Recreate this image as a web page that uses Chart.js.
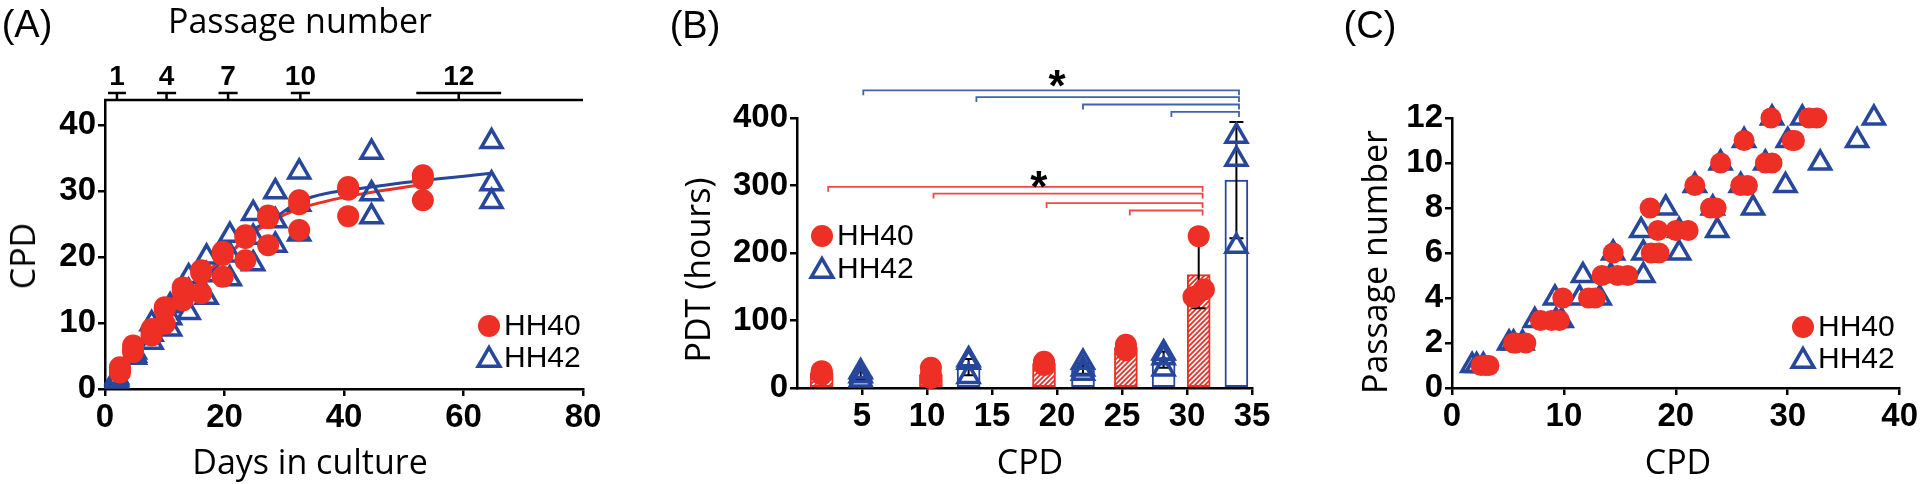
<!DOCTYPE html>
<html><head><meta charset="utf-8">
<script src="https://cdn.jsdelivr.net/npm/chart.js@4.4.1/dist/chart.umd.min.js"></script>
<style>
html,body{margin:0;padding:0;background:#fff;width:1920px;height:484px;overflow:hidden;}
#wrap{position:relative;width:1920px;height:484px;}
canvas{position:absolute;top:0;}
.t{position:absolute;white-space:nowrap;color:#000;line-height:1;transform:translate(-50%,-50%);}
.ot{font-family:'Open Sans',sans-serif;font-size:34px;}
.pl{font-family:'Liberation Sans',Arial,sans-serif;font-size:38px;}
.rot{transform:translate(-50%,-50%) rotate(-90deg);}
</style></head>
<body><div id="wrap">
<canvas id="cA" width="640" height="484" style="left:0px"></canvas>
<canvas id="cB" width="660" height="484" style="left:640px"></canvas>
<canvas id="cC" width="620" height="484" style="left:1300px"></canvas>
<div class="t pl" style="left:27px;top:24px">(A)</div>
<div class="t pl" style="left:695px;top:25px">(B)</div>
<div class="t pl" style="left:1370px;top:25px">(C)</div>
<div class="t ot" style="left:300px;top:20px">Passage number</div>
<div class="t ot rot" style="left:22px;top:256px">CPD</div>
<div class="t ot" style="left:310px;top:461px">Days in culture</div>
<div class="t ot rot" style="left:697px;top:270px">PDT (hours)</div>
<div class="t ot" style="left:1030px;top:461px">CPD</div>
<div class="t ot rot" style="left:1374px;top:262px">Passage number</div>
<div class="t ot" style="left:1678px;top:461px">CPD</div>
</div>
<script>
// ---------------- Panel A data ----------------
const hh40Days = [2.5,2.5,2.5, 4.7,4.7,4.7, 7.8,7.8,7.8, 10,10,10, 13,13,13, 16.1,16.1,16.1, 19.7,19.7,19.7, 23.5,23.5,23.5, 27.3,27.3,27.3, 32.5,32.5,32.5, 40.7,40.7,40.7, 53.2,53.2,53.2];
const hh40CPD  = [3.3,2.5,2.9, 6.6,5.6,6.1, 9.1,8.1,8.6, 12.4,9.9,12.0, 15.4,13.4,14.8, 18.0,14.5,17.6, 20.8,17.0,20.3, 23.3,19.5,22.9, 26.3,21.8,25.9, 28.6,24.1,28.0, 30.6,26.2,30.2, 32.4,28.6,31.8];
const hh42Days = [2.0,2.0,2.0, 5.0,5.0,5.0, 7.8,7.8,7.8, 10.9,10.9,10.9, 14.0,14.0,14.0, 17.0,17.0,17.0, 20.9,20.9,20.9, 24.8,24.8,24.8, 28.5,28.5,28.5, 32.5,32.5,32.5, 44.6,44.6,44.6, 64.7,64.7,64.7];
const hh42CPD  = [1.5,1.8,1.2, 5.1,5.6,4.8, 7.1,9.9,8.3, 9.1,12.6,10.8, 11.6,17.0,14.8, 13.9,20.0,17.3, 16.7,23.3,20.3, 19.0,26.6,23.0, 21.8,29.9,25.5, 23.5,32.9,28.0, 26.1,35.9,29.6, 28.4,37.5,31.1];
const hh40FitDays = [2.5, 4.7, 7.8, 10, 14.2, 19.8, 23.7, 27.6, 32.5, 40.7, 53.2];
const hh40FitCPD  = [2.8, 5.8, 8.6, 10.9, 15.7, 19.7, 22.8, 25.3, 27.3, 29.2, 31.0];
const hh42FitDays = [2.0, 5.0, 7.8, 10.9, 14.0, 17.0, 20.9, 24.8, 28.5, 32.5, 44.6, 64.7];
const hh42FitCPD  = [1.8, 5.3, 7.8, 10.9, 13.9, 17.0, 20.5, 24.1, 26.0, 28.4, 30.6, 32.7];
const passageLabels = ['1','4','7','10','12'];
const passageDays   = [2.0, 10.3, 20.6, 32.7, 59.2];
const passageSpread = [1.5, 1.6, 1.6, 1.6, 7.1];
const daysTicks = [0,20,40,60,80];
const cpdTicksA = [0,10,20,30,40];
// ---------------- Panel B data ----------------
const barCPD40 = [1.9, 10.3, 19.0, 25.3, 30.9];
const barPDT40 = [22, 20, 36, 60, 168];
const sdPDT40  = [3, 8, 3, 4, 50];
const barCPD42 = [4.9, 13.2, 22.0, 28.2, 33.8];
const barPDT42 = [18, 31, 29, 42, 308];
const sdPDT42  = [6, 12, 8, 12, 86];
const ptCPD40 = [1.9,1.9,1.9, 10.3,10.3,10.3, 19.0,19.0,19.0, 25.3,25.3,25.3, 30.9,30.5,31.3];
const ptPDT40 = [20,23,25, 15,20,30, 34,37,39, 56,60,64, 225,135,146];
const ptCPD42 = [4.9,4.9,4.9, 13.2,13.2,13.2, 22.0,22.0,22.0, 28.2,28.2,28.2, 33.8,33.8,33.8];
const ptPDT42 = [12,18,24, 17,38,42, 22,28,38, 28,45,52, 373,339,210];
const sigBlueFrom = [5.1, 13.8, 22.0, 28.8];
const sigBlueTo   = 34.0;
const sigBlueY    = [441, 431, 420, 409];
const sigRedFrom  = [2.4, 10.5, 19.2, 25.6];
const sigRedTo    = 31.2;
const sigRedY     = [298, 288, 274, 263];
const starsB = [{x:20.0, y:462, c:'*'}, {x:18.6, y:313, c:'*'}];
const cpdTicksB = [5,10,15,20,25,30,35];
const pdtTicks = [0,100,200,300,400];
// ---------------- Panel C data ----------------
const passCPD40 = [2.6,3.0,3.3, 5.5,5.7,6.6, 7.9,8.9,9.6, 9.9,12.2,12.8, 13.4,14.8,15.7, 14.4,17.8,18.5, 18.4,20.0,21.1, 17.7,23.1,23.6, 21.7,25.8,26.4, 24.0,28.0,28.6, 26.1,30.4,30.6, 28.5,31.9,32.6];
const passNo40  = [1,1,1, 2,2,2, 3,3,3, 4,4,4, 5,5,5, 6,6,6, 7,7,7, 8,8,8, 9,9,9, 10,10,10, 11,11,11, 12,12,12];
const passCPD42 = [1.8,2.2,2.8, 5.1,5.5,6.3, 7.4,9.3,9.8, 9.2,11.4,13.2, 11.7,14.2,17.1, 14.4,17.1,20.3, 16.9,20.3,23.7, 19.1,23.3,26.9, 21.7,25.8,29.8, 24.0,28.0,32.9, 26.1,30.0,36.2, 28.6,31.3,37.7];
const passNo42  = [1,1,1, 2,2,2, 3,3,3, 4,4,4, 5,5,5, 6,6,6, 7,7,7, 8,8,8, 9,9,9, 10,10,10, 11,11,11, 12,12,12];
const cpdTicksC = [0,10,20,30,40];
const passTicks = [0,2,4,6,8,10,12];
const seriesNames = ['HH40','HH42'];

// ---------------- styling ----------------
const RED = '#ee2f25', BLUE = '#26479b';
const TICK_FONT = {family:"'Liberation Sans', Arial, sans-serif", size:33, weight:'bold'};
const LEG_FONT = "30px 'Liberation Sans', Arial, sans-serif";
Chart.defaults.animation = false;
Chart.defaults.plugins.legend.display = false;
Chart.defaults.plugins.tooltip.enabled = false;

const zip = (xs, ys) => xs.map((x,i)=>({x, y:ys[i]}));

function axis(min, max, ticks, fit, pad){
  return {
    type:'linear', min, max, offset:false,
    afterBuildTicks: s => { s.ticks = ticks.map(v=>({value:v})); },
    afterFit: fit,
    ticks:{font:TICK_FONT, color:'#000', padding:pad, callback: v => String(v)},
    grid:{display:true, drawOnChartArea:false, drawTicks:true, tickLength:7, color:'#000', lineWidth:2.5, offset:false},
    border:{display:true, color:'#000', width:2.5}
  };
}

function drawTri(ctx, x, y, r, lw, color){
  ctx.save(); ctx.beginPath();
  ctx.moveTo(x, y - r);
  ctx.lineTo(x + r*Math.sin(Math.PI/3), y + r/2);
  ctx.lineTo(x - r*Math.sin(Math.PI/3), y + r/2);
  ctx.closePath(); ctx.lineWidth = lw; ctx.strokeStyle = color; ctx.stroke(); ctx.restore();
}
function drawDot(ctx, x, y, r, color){
  ctx.save(); ctx.beginPath(); ctx.arc(x,y,r,0,Math.PI*2); ctx.fillStyle=color; ctx.fill(); ctx.restore();
}
function legendPlugin(x, y1, y2){
  return { id:'leg', afterDraw(chart){
    const ctx = chart.ctx;
    drawDot(ctx, x, y1, 11, RED);
    drawTri(ctx, x, y2+2, 12.5, 3.5, BLUE);
    ctx.save(); ctx.fillStyle='#000'; ctx.font = LEG_FONT; ctx.textBaseline='middle'; ctx.textAlign='left';
    ctx.fillText(seriesNames[0], x+15, y1+1);
    ctx.fillText(seriesNames[1], x+15, y2+1);
    ctx.restore();
  }};
}

// ---------------- Panel A ----------------
const topAxisPlugin = { id:'topAxis', afterDraw(chart){
  const ctx = chart.ctx, xs = chart.scales.x, top = chart.chartArea.top;
  ctx.save(); ctx.strokeStyle='#000'; ctx.lineWidth=2.5;
  ctx.beginPath(); ctx.moveTo(xs.left-1, top); ctx.lineTo(xs.right, top); ctx.stroke();
  ctx.font = "bold 28px 'Liberation Sans', Arial, sans-serif";
  ctx.fillStyle='#000'; ctx.textAlign='center'; ctx.textBaseline='alphabetic';
  passageDays.forEach((d,i)=>{
    const px = xs.getPixelForValue(d), l = xs.getPixelForValue(d-passageSpread[i]), r = xs.getPixelForValue(d+passageSpread[i]);
    ctx.beginPath(); ctx.moveTo(l, top-7); ctx.lineTo(r, top-7); ctx.moveTo(px, top-7); ctx.lineTo(px, top); ctx.stroke();
    ctx.fillText(passageLabels[i], px, top-15);
  });
  ctx.restore();
}};

new Chart(document.getElementById('cA'), {
  type:'scatter',
  data:{datasets:[
    {data:zip(hh40Days,hh40CPD), pointStyle:'circle', pointRadius:11, backgroundColor:RED, borderColor:RED, borderWidth:0, order:0, clip:false},
    {data:zip(hh42Days,hh42CPD), pointStyle:'triangle', pointRadius:12, backgroundColor:'rgba(255,255,255,0)', borderColor:BLUE, borderWidth:3.5, order:1, clip:false},
    {data:zip(hh40FitDays,hh40FitCPD), showLine:true, pointRadius:0, borderColor:RED, borderWidth:3, cubicInterpolationMode:'monotone', order:2, clip:false},
    {data:zip(hh42FitDays,hh42FitCPD), showLine:true, pointRadius:0, borderColor:BLUE, borderWidth:3, cubicInterpolationMode:'monotone', order:3, clip:false}
  ]},
  options:{responsive:false, devicePixelRatio:1,
    layout:{padding:{left:0, top:100, right:57, bottom:0}},
    scales:{
      x: axis(0, 80, daysTicks, s=>{ s.height = 95; }, 2),
      y: axis(0, 43.8, cpdTicksA, s=>{ s.width = 105; }, 2)
    }},
  plugins:[topAxisPlugin, legendPlugin(489, 326, 358)]
});

// ---------------- Panel B ----------------
function hatch(){
  const n = 5;
  const c = document.createElement('canvas'); c.width = n; c.height = n;
  const g = c.getContext('2d'); g.fillStyle='#fff'; g.fillRect(0,0,n,n);
  g.strokeStyle = RED; g.lineWidth = 1.8;
  g.beginPath(); g.moveTo(0,n); g.lineTo(n,0); g.moveTo(-1,1); g.lineTo(1,-1); g.moveTo(n-1,n+1); g.lineTo(n+1,n-1); g.stroke();
  return g.createPattern(c,'repeat');
}
const bPlugin = { id:'bExtras',
  afterDatasetDraw(chart, args){
    if (args.index !== 2) return;
    const ctx = chart.ctx, xs = chart.scales.x, ys = chart.scales.y;
    ctx.save(); ctx.strokeStyle='#000'; ctx.lineWidth=2;
    const eb = (cx, m, sd) => {
      const px = xs.getPixelForValue(cx), a = ys.getPixelForValue(m-sd), b = ys.getPixelForValue(m+sd);
      ctx.beginPath(); ctx.moveTo(px, a); ctx.lineTo(px, b);
      ctx.moveTo(px-7, a); ctx.lineTo(px+7, a); ctx.moveTo(px-7, b); ctx.lineTo(px+7, b); ctx.stroke();
    };
    barCPD40.forEach((c,i)=>eb(c, barPDT40[i], sdPDT40[i]));
    barCPD42.forEach((c,i)=>eb(c, barPDT42[i], sdPDT42[i]));
    ctx.restore();
  },
  afterDraw(chart){
    const ctx = chart.ctx, xs = chart.scales.x, ys = chart.scales.y;
    ctx.save(); ctx.lineWidth = 1.8;
    const br = (from, to, lv, col) => {
      const y = ys.getPixelForValue(lv), l = xs.getPixelForValue(from), r = xs.getPixelForValue(to);
      ctx.strokeStyle = col; ctx.beginPath(); ctx.moveTo(l, y+5); ctx.lineTo(l, y); ctx.lineTo(r, y); ctx.lineTo(r, y+5); ctx.stroke();
    };
    sigBlueFrom.forEach((f,i)=>br(f, sigBlueTo, sigBlueY[i], '#3f62b3'));
    sigRedFrom.forEach((f,i)=>br(f, sigRedTo, sigRedY[i], '#f04848'));
    ctx.fillStyle='#000'; ctx.font="bold 44px 'Liberation Sans', Arial, sans-serif"; ctx.textAlign='center'; ctx.textBaseline='alphabetic';
    starsB.forEach(s=>ctx.fillText(s.c, xs.getPixelForValue(s.x), ys.getPixelForValue(s.y)+25));
    ctx.restore();
  }
};
new Chart(document.getElementById('cB'), {
  type:'bar',
  data:{datasets:[
    {type:'scatter', data:zip(ptCPD40,ptPDT40), pointStyle:'circle', pointRadius:11, backgroundColor:RED, borderColor:RED, borderWidth:0, order:0, clip:false},
    {type:'scatter', data:zip(ptCPD42,ptPDT42), pointStyle:'triangle', pointRadius:12, backgroundColor:'rgba(255,255,255,0)', borderColor:BLUE, borderWidth:3.5, order:1, clip:false},
    {type:'bar', data:zip(barCPD40,barPDT40), backgroundColor:hatch(), borderColor:RED, borderWidth:2, borderSkipped:false, barThickness:23, grouped:false, order:3},
    {type:'bar', data:zip(barCPD42,barPDT42), backgroundColor:'#fff', borderColor:BLUE, borderWidth:2, borderSkipped:false, barThickness:23, grouped:false, order:4}
  ]},
  options:{responsive:false, devicePixelRatio:1,
    layout:{padding:{left:0, top:118, right:48, bottom:0}},
    scales:{
      x: axis(0, 35, cpdTicksB, s=>{ s.height = 96; }, 2),
      y: axis(0, 400, pdtTicks, s=>{ s.width = 157; }, 2)
    }},
  plugins:[bPlugin, legendPlugin(182, 236, 269)]
});

// ---------------- Panel C ----------------
new Chart(document.getElementById('cC'), {
  type:'scatter',
  data:{datasets:[
    {data:zip(passCPD40,passNo40), pointStyle:'circle', pointRadius:10.5, backgroundColor:RED, borderColor:RED, borderWidth:0, order:0, clip:false},
    {data:zip(passCPD42,passNo42), pointStyle:'triangle', pointRadius:12, backgroundColor:'rgba(255,255,255,0)', borderColor:BLUE, borderWidth:3.5, order:1, clip:false}
  ]},
  options:{responsive:false, devicePixelRatio:1,
    layout:{padding:{left:0, top:118, right:19, bottom:0}},
    scales:{
      x: axis(0, 40, cpdTicksC, s=>{ s.height = 96; }, 2),
      y: axis(0, 12, passTicks, s=>{ s.width = 152; }, 2)
    }},
  plugins:[legendPlugin(503, 327, 359)]
});
</script>
</body></html>
